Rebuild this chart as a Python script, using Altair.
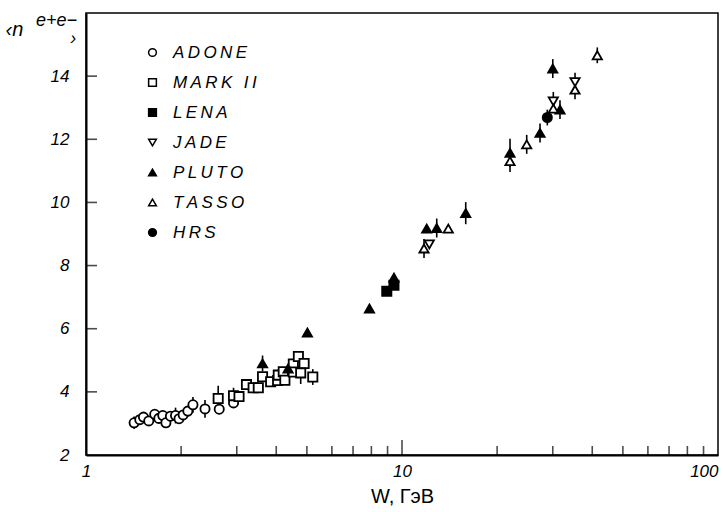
import altair as alt
import pandas as pd

# Mean charged multiplicity in e+e- annihilation vs. c.m. energy W (GeV)
series_names = ["ADONE", "MARK II", "LENA", "JADE", "PLUTO", "TASSO", "HRS"]
series_shapes = ["circle", "square", "square", "triangle-down", "triangle-up", "triangle-up", "circle"]
series_fills = ["white", "white", "black", "white", "black", "white", "black"]

adone_w = [1.42, 1.48, 1.52, 1.58, 1.65, 1.70, 1.75, 1.79, 1.85, 1.92, 1.97, 2.03, 2.10, 2.18, 2.38, 2.64, 2.93]
adone_n = [3.02, 3.12, 3.20, 3.08, 3.29, 3.16, 3.25, 3.02, 3.23, 3.25, 3.15, 3.27, 3.39, 3.59, 3.46, 3.45, 3.65]
adone_err = [0.2, 0.1, 0.1, 0.1, 0.1, 0.1, 0.1, 0.1, 0.1, 0.25, 0.1, 0.1, 0.1, 0.25, 0.28, 0.1, 0.1]

mark2_w = [2.62, 2.93, 3.05, 3.22, 3.38, 3.51, 3.62, 3.84, 4.04, 4.06, 4.21, 4.26, 4.53, 4.53, 4.70, 4.90, 4.78, 5.22]
mark2_n = [3.79, 3.88, 3.85, 4.23, 4.13, 4.13, 4.48, 4.32, 4.36, 4.53, 4.64, 4.37, 4.88, 4.63, 5.12, 4.90, 4.60, 4.47]
mark2_err = [0.4, 0.25, 0.1, 0.15, 0.1, 0.1, 0.1, 0.1, 0.1, 0.1, 0.1, 0.1, 0.1, 0.1, 0.1, 0.1, 0.35, 0.25]

lena_w = [8.95, 9.43]
lena_n = [7.19, 7.38]
lena_err = [0.1, 0.1]

jade_w = [12.2, 30.12, 35.28]
jade_n = [8.67, 13.20, 13.81]
jade_err = [0.1, 0.3, 0.3]

pluto_w = [3.62, 4.36, 5.02, 7.89, 9.43, 11.97, 12.88, 15.91, 21.97, 27.34, 31.62, 30.0]
pluto_n = [4.90, 4.74, 5.88, 6.64, 7.62, 9.17, 9.19, 9.66, 11.57, 12.20, 12.94, 14.24]
pluto_err = [0.25, 0.1, 0.1, 0.1, 0.1, 0.1, 0.3, 0.35, 0.45, 0.3, 0.3, 0.3]

tasso_w = [11.74, 14.01, 21.97, 24.81, 30.12, 35.28, 41.5]
tasso_n = [8.54, 9.17, 11.31, 11.84, 12.97, 13.57, 14.66]
tasso_err = [0.3, 0.1, 0.35, 0.3, 0.1, 0.3, 0.25]

hrs_w = [28.83]
hrs_n = [12.69]
hrs_err = [0.25]

groups = [
    ("ADONE", adone_w, adone_n, adone_err),
    ("MARK II", mark2_w, mark2_n, mark2_err),
    ("LENA", lena_w, lena_n, lena_err),
    ("JADE", jade_w, jade_n, jade_err),
    ("PLUTO", pluto_w, pluto_n, pluto_err),
    ("TASSO", tasso_w, tasso_n, tasso_err),
    ("HRS", hrs_w, hrs_n, hrs_err),
]
df = pd.concat(
    [pd.DataFrame({"series": name, "W": w, "n": n, "err": e}) for name, w, n, e in groups],
    ignore_index=True,
)

# axis tick positions
x_minor = [2, 3, 4, 5, 6, 7, 8, 9, 20, 30, 40, 50, 60, 70, 80, 90]
x_mid = [10]
x_labels = [1, 10, 100]
y_ticks = [4, 6, 8, 10, 12, 14]
y_labels = [2, 4, 6, 8, 10, 12, 14]
X_MIN, Y_MIN = 1, 2

W_PX, H_PX = 632, 442
FONT = "Liberation Sans"

x_scale = alt.Scale(type="log", domain=[1, 100])
y_scale = alt.Scale(domain=[2, 16])

# inward tick marks sitting on the bottom and left edges of the frame
xt_minor = alt.Chart(pd.DataFrame({"W": x_minor, "n": Y_MIN})).mark_tick(
    orient="vertical", size=9, thickness=1.6, yOffset=-4.5, color="black"
).encode(x=alt.X("W:Q", scale=x_scale), y=alt.Y("n:Q", scale=y_scale))

xt_mid = alt.Chart(pd.DataFrame({"W": x_mid, "n": Y_MIN})).mark_tick(
    orient="vertical", size=15, thickness=1.6, yOffset=-7.5, color="black"
).encode(x=alt.X("W:Q", scale=x_scale), y=alt.Y("n:Q", scale=y_scale))

yt = alt.Chart(pd.DataFrame({"W": X_MIN, "n": y_ticks})).mark_tick(
    orient="horizontal", size=11, thickness=1.6, xOffset=5.5, color="black"
).encode(x=alt.X("W:Q", scale=x_scale), y=alt.Y("n:Q", scale=y_scale))

base = alt.Chart(df)

# error bars
bars = base.transform_calculate(
    lo="datum.n - datum.err", hi="datum.n + datum.err"
).mark_rule(color="black", strokeWidth=1.6).encode(
    x=alt.X("W:Q", scale=x_scale),
    y=alt.Y("lo:Q", scale=y_scale),
    y2="hi:Q",
)

legend = alt.Legend(
    title=None, orient="none", legendX=58, legendY=31, direction="vertical",
    symbolSize=60, symbolStrokeColor="black", symbolStrokeWidth=1.5,
    labelFont=FONT, labelFontSize=17, labelFontStyle="italic", labelColor="black",
    labelOffset=12, rowPadding=12, padding=0,
    labelExpr="join(split(datum.label, ''), '\u2009')",
)

pts = base.mark_point(
    filled=True, size=85, strokeWidth=1.8, opacity=1
).encode(
    x=alt.X(
        "W:Q", scale=x_scale,
        axis=alt.Axis(
            orient="bottom", values=x_labels, format="d", ticks=False, grid=False,
            domainColor="black", domainWidth=2,
            labelFont=FONT, labelFontSize=17, labelFontStyle="italic", labelColor="black",
            labelPadding=8,
            labelAlign={"condition": {"test": "datum.value == 100", "value": "right"}, "value": "center"},
            title="W, ГэВ", titleFont=FONT, titleFontSize=20, titleFontWeight="normal",
            titleColor="black", titlePadding=7,
        ),
    ),
    y=alt.Y(
        "n:Q", scale=y_scale,
        axis=alt.Axis(
            orient="left", values=y_labels, ticks=False, grid=False,
            domainColor="black", domainWidth=2,
            labelFont=FONT, labelFontSize=17, labelFontStyle="italic", labelColor="black",
            labelPadding=17,
            title="‹n", titleFont=FONT, titleFontSize=20,
            titleFontStyle="italic", titleFontWeight="normal", titleColor="black", titleAngle=0,
            titleAlign="left", titleBaseline="alphabetic", titleX=-81, titleY=22,
        ),
    ),
    shape=alt.Shape("series:N", scale=alt.Scale(domain=series_names, range=series_shapes), legend=legend),
    fill=alt.Fill("series:N", scale=alt.Scale(domain=series_names, range=series_fills), legend=legend),
    stroke=alt.Stroke("series:N", scale=alt.Scale(domain=series_names, range=["black"] * 7), legend=legend),
)

chart = (
    alt.layer(bars, xt_minor, xt_mid, yt, pts)
    .properties(
        width=W_PX, height=H_PX,
        padding={"left": 86, "top": 13, "right": 8, "bottom": 57},
        autosize=alt.AutoSizeParams(type="none"),
        background="white",
        title=alt.TitleParams(
            text="e+e\u2212", subtitle="\u200b\u2002\u2002\u2002\u2009\u2009›",
            anchor="start", frame="group", orient="top", offset=0,
            dx=-50, dy=35, font=FONT, fontSize=18,
            fontStyle="italic", fontWeight="normal", color="black",
            subtitleFont=FONT, subtitleFontSize=18, subtitleFontStyle="italic",
            subtitleColor="black", subtitlePadding=0,
        ),
    )
    .configure_axis(grid=False, ticks=False)
    .configure_view(stroke="black", strokeWidth=1.5)
)

chart.save("out.html", embed_options={"renderer": "svg", "actions": False})
